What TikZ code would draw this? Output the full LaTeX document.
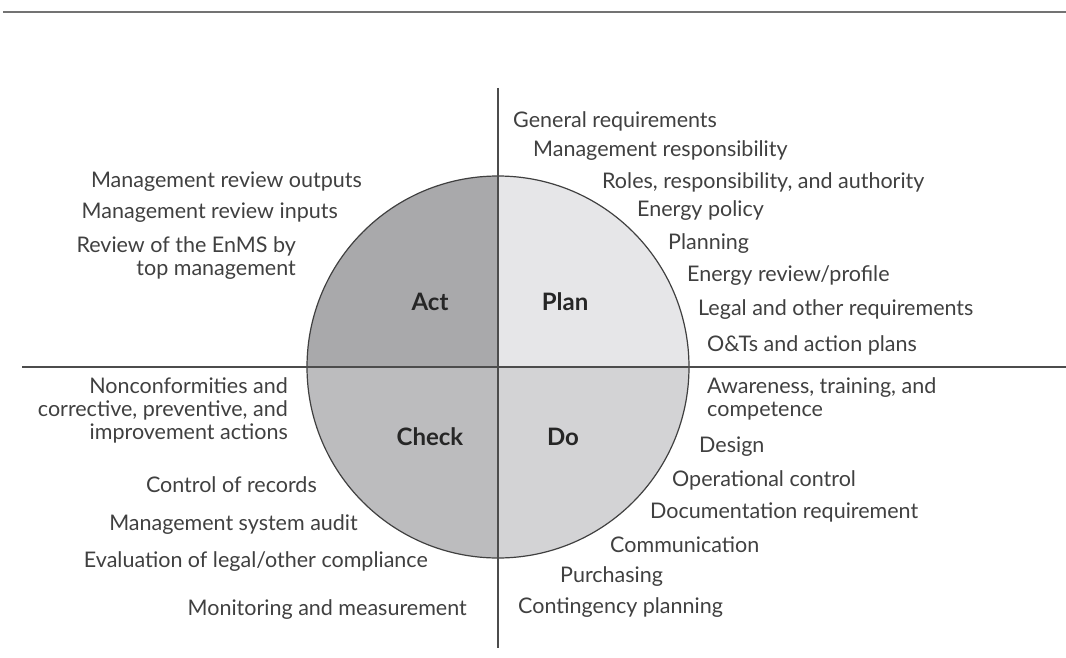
\documentclass[tikz,border=0pt]{standalone}
\usepackage{fontspec}
\setmainfont{Lato}
\usetikzlibrary{positioning}
\definecolor{actfill}{HTML}{A9A9AB}
\definecolor{planfill}{HTML}{E6E6E8}
\definecolor{checkfill}{HTML}{BCBCBE}
\definecolor{dofill}{HTML}{D3D3D5}
\definecolor{inkgray}{HTML}{404040}

\begin{document}
\begin{tikzpicture}[
    x=1pt, y=-1pt,
    item/.style={anchor=west, align=left, inner sep=0pt, text=inkgray, font=\fontsize{21.5}{23}\selectfont},
    itemleft/.style={anchor=east, align=right, inner sep=0pt, text=inkgray, font=\fontsize{21.5}{23}\selectfont},
    phase/.style={inner sep=0pt, text=black!85, font=\bfseries\fontsize{24}{26}\selectfont},
    axis/.style={line width=1.6pt, draw=black!70},
    rim/.style={line width=1.2pt, draw=black!75}
]
    \useasboundingbox (0,0) rectangle (1066,658);
    % top rule
    \coordinate (ruleL) at (3,12);
    \coordinate (ruleR) at (1066,12);
    \draw [line width=1.8pt, draw=black!55] (ruleL) -- (ruleR);

    % PDCA wheel
    \coordinate (c) at (498,367);
    \fill [planfill] (c) -- (689,367) arc[start angle=0, end angle=-90, radius=191] -- cycle;
    \fill [actfill] (c) -- (498,176) arc[start angle=-90, end angle=-180, radius=191] -- cycle;
    \fill [checkfill] (c) -- (307,367) arc[start angle=180, end angle=90, radius=191] -- cycle;
    \fill [dofill] (c) -- (498,558) arc[start angle=90, end angle=0, radius=191] -- cycle;
    \draw [rim] (c) circle[radius=191];

    \coordinate (vtop) at (498,88);
    \coordinate (vbot) at (498,648);
    \coordinate (hleft) at (22,367);
    \coordinate (hright) at (1066,367);
    \draw [axis] (vtop) -- (vbot);
    \draw [axis] (hleft) -- (hright);

    \node [phase] (act) at (430,302) {Act};
    \node [phase] (plan) at (565,302) {Plan};
    \node [phase] (check) at (430,437) {Check};
    \node [phase] (do) at (563,437) {Do};

    % Plan
    \node [item] (genreq) at (513,121) {General requirements};
    \node [item] (mgtresp) at (533,151) {Management responsibility};
    \node [item] (roles) at (602,182) {Roles, responsibility, and authority};
    \node [item] (policy) at (637,211) {Energy policy};
    \node [item] (planning) at (668,244) {Planning};
    \node [item] (review) at (687,276) {Energy review/profile};
    \node [item] (legal) at (698,310) {Legal and other requirements};
    \node [item] (ots) at (707,345) {O\&Ts and action plans};

    % Do
    \node [item] (aware) at (707,399) {Awareness, training, and\\competence};
    \node [item] (design) at (699,447) {Design};
    \node [item] (opctrl) at (672,480) {Operational control};
    \node [item] (docreq) at (650,512) {Documentation requirement};
    \node [item] (comm) at (610,545) {Communication};
    \node [item] (purch) at (560,577) {Purchasing};
    \node [item] (conting) at (518,608) {Contingency planning};

    % Check
    \node [itemleft] (noncon) at (288,410) {Nonconformities and\\corrective, preventive, and\\improvement actions};
    \node [itemleft] (records) at (317,485) {Control of records};
    \node [itemleft] (audit) at (358,525) {Management system audit};
    \node [itemleft] (evalcomp) at (428,562) {Evaluation of legal/other compliance};
    \node [itemleft] (monitor) at (467,610) {Monitoring and measurement};

    % Act
    \node [itemleft] (outputs) at (362,182) {Management review outputs};
    \node [itemleft] (inputs) at (338,213) {Management review inputs};
    \node [itemleft] (topmgt) at (296,258) {Review of the EnMS by\\top management};
\end{tikzpicture}
\end{document}
